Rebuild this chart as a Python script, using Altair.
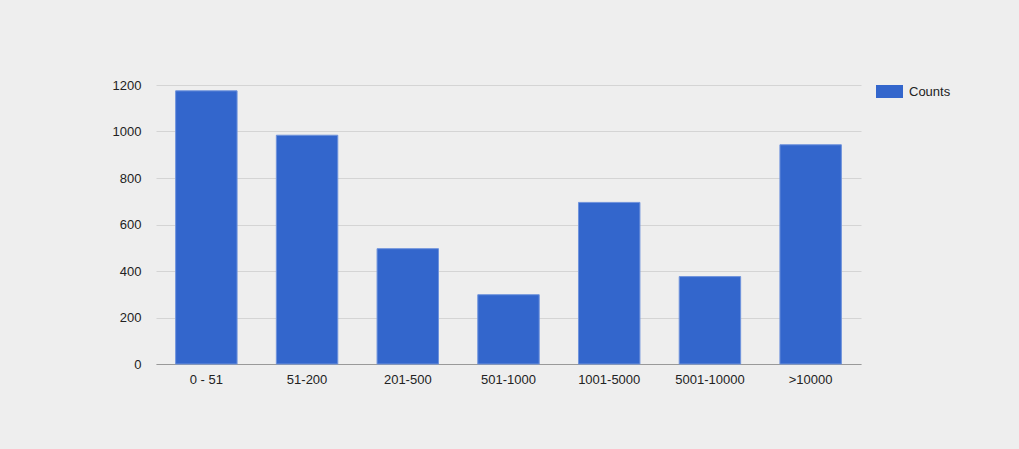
import altair as alt
import pandas as pd

# Hit-count buckets and how many items fall in each
buckets = ["0 - 51", "51-200", "201-500", "501-1000", "1001-5000", "5001-10000", ">10000"]
counts = [1175, 984, 496, 298, 695, 376, 943]
series = ["Counts"] * len(buckets)

df = pd.DataFrame({"bucket": buckets, "count": counts, "series": series})

FONT = "Arial, Liberation Sans, sans-serif"

bars = alt.Chart(df).mark_bar(stroke="#6f93dc", strokeWidth=1).encode(
    x=alt.X(
        "bucket:N",
        sort=buckets,
        title=None,
        scale=alt.Scale(paddingInner=0.39, paddingOuter=0.195),
        axis=alt.Axis(
            labelAngle=0,
            ticks=False,
            domain=True,
            domainColor="#999999",
            domainWidth=1,
            labelPadding=9,
            labelFontSize=13,
            labelColor="#222222",
            labelFont=FONT,
            grid=False,
        ),
    ),
    y=alt.Y(
        "count:Q",
        title=None,
        scale=alt.Scale(domain=[0, 1200], nice=False),
        axis=alt.Axis(
            values=[0, 200, 400, 600, 800, 1000, 1200],
            ticks=False,
            domain=False,
            grid=True,
            gridColor="#d4d4d4",
            gridWidth=1,
            labelPadding=15,
            labelFontSize=13,
            labelColor="#222222",
            labelFont=FONT,
            format="d",
        ),
    ),
    color=alt.Color(
        "series:N",
        title=None,
        scale=alt.Scale(range=["#3366cc"]),
        legend=alt.Legend(
            orient="none",
            legendX=720,
            legendY=-7,
            symbolType="M-1,-0.48H1V0.48H-1Z",
            symbolSize=729,
            symbolStrokeWidth=0,
            symbolOpacity=1,
            labelFontSize=13,
            labelFont=FONT,
            labelColor="#222222",
            labelOffset=6,
            padding=0,
        ),
    ),
)

chart = bars.properties(
    width=705,
    height=279,
    background="#eeeeee",
    padding={"left": 156, "top": 85, "right": 158, "bottom": 85},
    autosize=alt.AutoSizeParams(type="none"),
).configure_view(stroke=None)

chart.save("out.html", embed_options={"renderer": "svg", "actions": False})
